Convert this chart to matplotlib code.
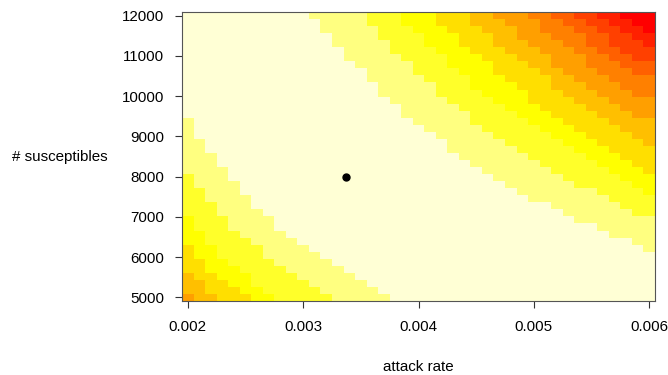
import numpy as np
import matplotlib
matplotlib.use("Agg")
import matplotlib.pyplot as plt
from matplotlib.colors import ListedColormap

# grid axes (41 x 41 cells)
attack_rate = np.linspace(0.002, 0.006, 41)
susceptibles = np.linspace(5000, 12000, 41)

# R heat.colors(12), listed from the best (pale) bin to the worst (red) bin
bin_colors = ["#FFFFD5", "#FFFF80", "#FFFF2A", "#FFFF00", "#FFDF00", "#FFBF00",
              "#FF9F00", "#FF8000", "#FF6000", "#FF4000", "#FF2000", "#FF0000"]

# lower-left corner: per row (bottom to top), how many columns from the left
# reach at least bin k (k = 1..6)
left_edge_1 = [18, 17, 16, 15, 14, 13, 12, 11, 10, 9, 8, 8, 7, 6, 6, 5, 5, 4, 4, 3, 3,
               2, 2, 1, 1, 1] + [0] * 15
left_edge_2 = [13, 12, 11, 10, 9, 8, 7, 7, 6, 5, 4, 4, 3, 3, 2, 2, 1, 1] + [0] * 23
left_edge_3 = [8, 7, 6, 6, 5, 4, 3, 3, 2, 2, 1, 1] + [0] * 29
left_edge_4 = [6, 5, 4, 3, 2, 2, 1, 1] + [0] * 33
left_edge_5 = [3, 2, 2, 1] + [0] * 37
left_edge_6 = [1] + [0] * 40

# upper-right corner: per row (bottom to top), first column that reaches
# at least bin k (k = 1..11); 41 means none
right_edge_1 = [41] * 7 + [40, 39, 37, 36, 34, 33, 32, 30, 29, 28, 27, 26, 25, 24, 23, 23,
                           22, 21, 20, 19, 19, 18, 17, 17, 16, 16, 15, 14, 14, 13, 13,
                           12, 12, 11]
right_edge_2 = [41] * 12 + [39, 38, 37, 36, 34, 33, 32, 31, 30, 29, 28, 27, 26, 25, 25,
                            24, 23, 22, 22, 21, 20, 20, 19, 18, 18, 17, 17, 16, 16]
right_edge_3 = [41] * 15 + [40, 39, 38, 37, 36, 35, 34, 33, 32, 31, 30, 29, 28, 27, 26,
                            25, 25, 24, 23, 23, 22, 21, 21, 20, 19, 19]
right_edge_4 = [41] * 18 + [40, 39, 38, 37, 36, 35, 34, 33, 32, 31, 30, 30, 29, 28, 27,
                            27, 26, 25, 24, 24, 23, 22, 22]
right_edge_5 = [41] * 22 + [40, 39, 38, 37, 36, 35, 34, 33, 32, 32, 31, 30, 29, 28, 27,
                            27, 26, 25, 25]
right_edge_6 = [41] * 26 + [39, 38, 37, 36, 35, 34, 33, 32, 32, 31, 30, 29, 29, 28, 27]
right_edge_7 = [41] * 29 + [39, 38, 37, 36, 35, 35, 34, 33, 32, 31, 31, 30]
right_edge_8 = [41] * 32 + [39, 38, 37, 36, 35, 35, 34, 33, 32]
right_edge_9 = [41] * 34 + [39, 38, 37, 37, 36, 35, 34]
right_edge_10 = [41] * 36 + [40, 39, 38, 37, 36]
right_edge_11 = [41] * 38 + [40, 39, 38]

# best estimate marked on the surface
best_rate = 0.00337
best_susceptibles = 8000


def main():
    left_edges = [left_edge_1, left_edge_2, left_edge_3, left_edge_4, left_edge_5,
                  left_edge_6]
    right_edges = [right_edge_1, right_edge_2, right_edge_3, right_edge_4, right_edge_5,
                   right_edge_6, right_edge_7, right_edge_8, right_edge_9, right_edge_10,
                   right_edge_11]

    grid = np.zeros((len(susceptibles), len(attack_rate)), dtype=int)
    for k, edges in enumerate(left_edges, start=1):
        for row, e in enumerate(edges):
            grid[row, :e] = np.maximum(grid[row, :e], k)
    for k, edges in enumerate(right_edges, start=1):
        for row, e in enumerate(edges):
            grid[row, e:] = np.maximum(grid[row, e:], k)

    dx = attack_rate[1] - attack_rate[0]
    dy = susceptibles[1] - susceptibles[0]
    x_edges = np.append(attack_rate - dx / 2, attack_rate[-1] + dx / 2)
    y_edges = np.append(susceptibles - dy / 2, susceptibles[-1] + dy / 2)

    plt.rcParams["font.family"] = ["Liberation Sans", "DejaVu Sans"]
    plt.rcParams["font.size"] = 10.9

    fig = plt.figure(figsize=(6.68, 3.75), dpi=100)
    ax = fig.add_axes([182 / 668, 74 / 375, 473 / 668, 289 / 375])

    ax.pcolormesh(x_edges, y_edges, grid, cmap=ListedColormap(bin_colors),
                  vmin=-0.5, vmax=len(bin_colors) - 0.5, shading="flat")
    ax.plot(best_rate, best_susceptibles, "o", color="black", markersize=5)

    ax.set_xlim(x_edges[0], x_edges[-1])
    ax.set_ylim(y_edges[0], y_edges[-1])
    ax.set_xticks([0.002, 0.003, 0.004, 0.005, 0.006])
    ax.set_xticklabels(["0.002", "0.003", "0.004", "0.005", "0.006"])
    ax.set_yticks(range(5000, 12001, 1000))
    ax.set_yticklabels([str(v) for v in range(5000, 12001, 1000)])
    ax.tick_params(direction="out", length=5, width=0.8, color="#333333")
    ax.tick_params(axis="x", pad=9)
    ax.tick_params(axis="y", pad=8)
    for spine in ax.spines.values():
        spine.set_linewidth(0.8)
        spine.set_color("#555555")

    fig.text(418 / 668, 1 - 367 / 375, "attack rate", ha="center", va="center")
    fig.text(60 / 668, 1 - 156.5 / 375, "# susceptibles", ha="center", va="center")

    fig.savefig("out.png", dpi=100)


if __name__ == "__main__":
    main()
